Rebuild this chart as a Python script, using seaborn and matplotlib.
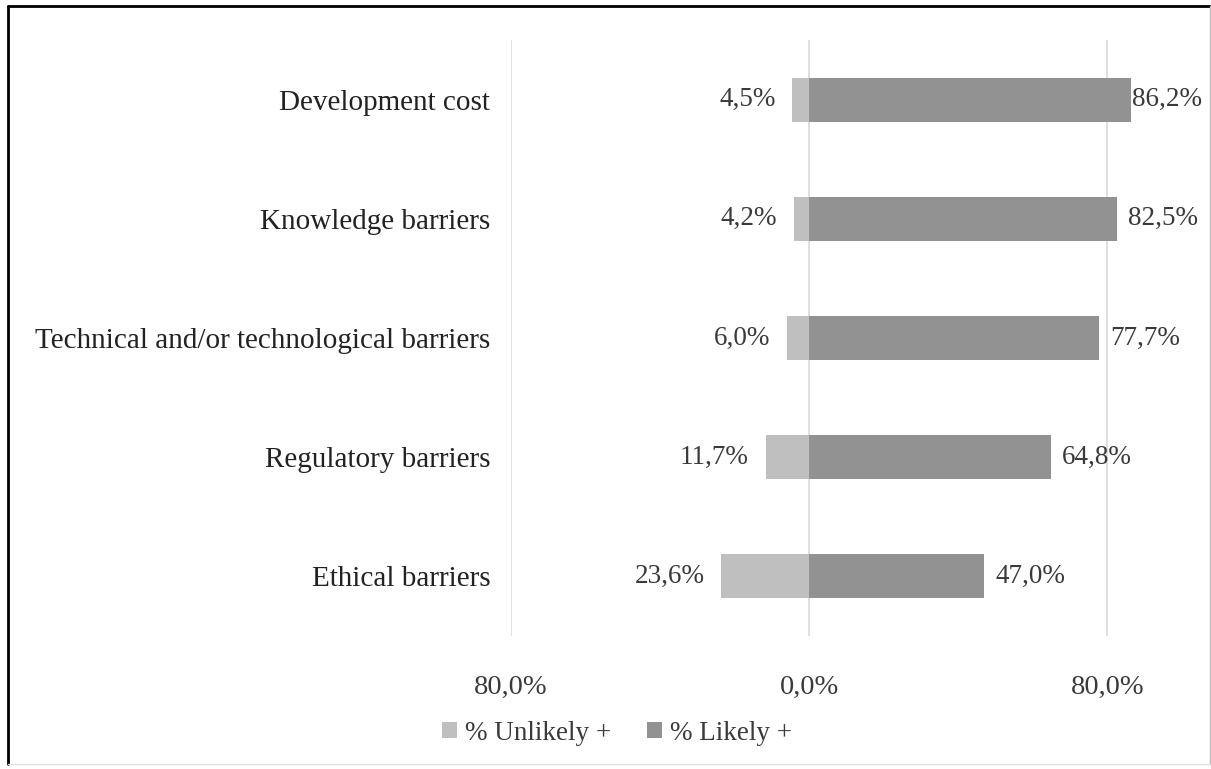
import matplotlib
matplotlib.use("Agg")
import matplotlib.pyplot as plt
import seaborn as sns
import pandas as pd
from matplotlib.patches import Patch
from matplotlib.lines import Line2D

categories = ["Development cost", "Knowledge barriers",
              "Technical and/or technological barriers",
              "Regulatory barriers", "Ethical barriers"]
unlikely = [4.5, 4.2, 6.0, 11.7, 23.6]
likely = [86.2, 82.5, 77.7, 64.8, 47.0]
series_names = ["% Unlikely +", "% Likely +"]
tick_values = [-80, 0, 80]
tick_labels = ["80,0%", "0,0%", "80,0%"]

c_unl = "#BFBFBF"
c_lik = "#929292"
txt = "#3A3A3A"

sns.set_theme(style="white")
plt.rcParams["font.family"] = ["Liberation Serif", "DejaVu Serif"]

df = pd.DataFrame({
    "cat": categories * 2,
    "val": [-u for u in unlikely] + likely,
    "series": [series_names[0]] * len(categories) + [series_names[1]] * len(categories),
})

W, H = 1211, 769
fig = plt.figure(figsize=(W / 100, H / 100), dpi=100)
ax = fig.add_axes([511 / W, 1 - 636 / H, (1182 - 511) / W, (636 - 40) / H])

sns.barplot(data=df, x="val", y="cat", hue="series", order=categories,
            hue_order=series_names, palette=[c_unl, c_lik], dodge=False,
            width=0.37, orient="h", ax=ax, legend=False, saturation=1,
            edgecolor="none", zorder=3)

ax.set_xlim(-80, 100)
ax.set_ylim(4.5, -0.5)
ax.set_xticks(tick_values)
ax.set_xticklabels(tick_labels, fontsize=20.5, color=txt)
ax.tick_params(axis="x", length=0, pad=28)
ax.tick_params(axis="y", length=0, pad=15)
ax.set_yticks(range(len(categories)))
ax.set_yticklabels(categories, fontsize=21, color="#222222")
ax.set_xlabel("")
ax.set_ylabel("")
for s in ax.spines.values():
    s.set_visible(False)
for v in tick_values:
    ax.axvline(v, color="#D9D9D9", lw=1.2, zorder=1)

for i, (u, l) in enumerate(zip(unlikely, likely)):
    ax.text(-u - 4.5, i, f"{u:.1f}%".replace(".", ","), ha="right", va="center",
            fontsize=19.5, color=txt)
    ax.text(l + 0.5 if l > 85 else l + 3.0, i, f"{l:.1f}%".replace(".", ","),
            ha="left", va="center", fontsize=19.5, color=txt)

handles = [Patch(facecolor=c_unl, edgecolor="none"), Patch(facecolor=c_lik, edgecolor="none")]
fig.legend(handles, series_names, loc="center", bbox_to_anchor=(617 / W, 1 - 733 / H),
           ncol=2, frameon=False, fontsize=19.5, handlelength=0.55, handleheight=0.55,
           handletextpad=0.3, columnspacing=1.3, labelcolor=txt)

fig.add_artist(Line2D([8 / W, 8 / W], [1 - 6 / H, 1 - 764 / H], color="black", lw=2, transform=fig.transFigure))
fig.add_artist(Line2D([8 / W, 1210 / W], [1 - 6 / H, 1 - 6 / H], color="black", lw=2, transform=fig.transFigure))
fig.add_artist(Line2D([1209.5 / W, 1209.5 / W], [1 - 6 / H, 1 - 764 / H], color="#BBBBBB", lw=1, transform=fig.transFigure))
fig.add_artist(Line2D([8 / W, 1210 / W], [1 - 764 / H, 1 - 764 / H], color="#E0E0E0", lw=1, transform=fig.transFigure))

fig.savefig("out.png", dpi=100, facecolor="white")
